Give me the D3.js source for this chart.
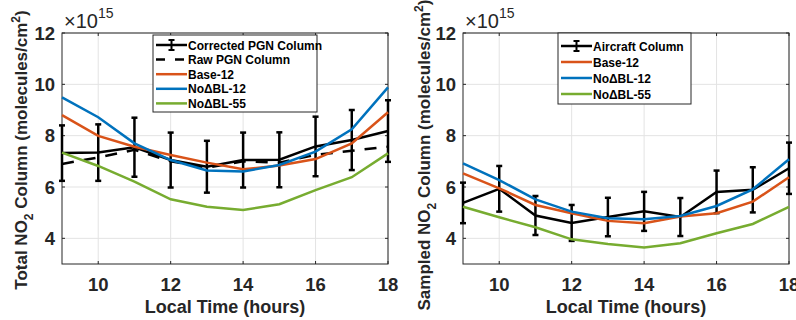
<!DOCTYPE html>
<html>
<head>
<meta charset="utf-8">
<script src="https://cdn.jsdelivr.net/npm/d3@7"></script>
<style>
  body { margin: 0; background: #fff; }
  svg { font-family: "Liberation Sans", Arial, sans-serif; font-weight: bold; }
</style>
</head>
<body>
<div id="chart"></div>
<script>
"use strict";

// local time (hours)
const hours = [9, 10, 11, 12, 13, 14, 15, 16, 17, 18];

// left panel: total NO2 column (x1e15)
const pgnCorrected = [7.32, 7.34, 7.55, 7.05, 6.79, 7.05, 7.06, 7.58, 7.83, 8.18];
const pgnErr       = [1.08, 1.10, 1.15, 1.07, 1.01, 1.07, 1.07, 1.16, 1.17, 1.20];
const pgnRaw       = [6.90, 7.15, 7.45, 7.00, 6.75, 7.00, 6.95, 7.25, 7.41, 7.57];
const totBase12    = [8.80, 7.99, 7.57, 7.25, 6.95, 6.69, 6.84, 7.09, 7.70, 8.91];
const totNoBL12    = [9.49, 8.72, 7.70, 7.05, 6.64, 6.60, 6.86, 7.38, 8.25, 9.88];
const totNoBL55    = [7.34, 6.82, 6.21, 5.52, 5.23, 5.10, 5.33, 5.88, 6.38, 7.31];

// right panel: sampled NO2 column (x1e15)
const aircraft     = [5.38, 5.93, 4.89, 4.60, 4.83, 5.05, 4.83, 5.81, 5.89, 6.73];
const aircraftErr  = [0.79, 0.89, 0.76, 0.70, 0.75, 0.76, 0.74, 0.83, 0.88, 1.00];
const smpBase12    = [6.53, 5.95, 5.30, 4.98, 4.68, 4.59, 4.85, 4.98, 5.43, 6.38];
const smpNoBL12    = [6.92, 6.27, 5.52, 5.04, 4.78, 4.74, 4.87, 5.26, 5.91, 7.08];
const smpNoBL55    = [5.23, 4.82, 4.43, 3.96, 3.78, 3.64, 3.81, 4.20, 4.56, 5.23];

const xTicks = [10, 12, 14, 16, 18];
const yTicks = [4, 6, 8, 10, 12];

const col = { orange: "#D95319", blue: "#0072BD", green: "#77AC30", black: "#000" };
const axisCol = "#262626";

const W = 796, H = 320;
const svg = d3.select("#chart").append("svg").attr("width", W).attr("height", H);

function panel(opt) {
  const x = d3.scaleLinear().domain([9, 18]).range([opt.left, opt.left + 326]);
  const y = d3.scaleLinear().domain([3, 12]).range([264, 33]);
  const g = svg.append("g");

  // grid
  g.append("g").selectAll("line").data(xTicks).join("line")
    .attr("x1", d => x(d)).attr("x2", d => x(d)).attr("y1", y(3)).attr("y2", y(12))
    .attr("stroke", "#e3e3e3").attr("stroke-width", 1);
  g.append("g").selectAll("line").data(yTicks).join("line")
    .attr("x1", x(9)).attr("x2", x(18)).attr("y1", d => y(d)).attr("y2", d => y(d))
    .attr("stroke", "#e3e3e3").attr("stroke-width", 1);

  // axes box
  g.append("rect").attr("x", x(9)).attr("y", y(12))
    .attr("width", x(18) - x(9)).attr("height", y(3) - y(12))
    .attr("fill", "none").attr("stroke", axisCol).attr("stroke-width", 1);

  // ticks
  g.append("g").selectAll("line").data(yTicks).join("line")
    .attr("x1", x(9)).attr("x2", x(9) + 3).attr("y1", d => y(d)).attr("y2", d => y(d))
    .attr("stroke", axisCol);
  g.append("g").selectAll("line").data(yTicks).join("line")
    .attr("x1", x(18)).attr("x2", x(18) - 3).attr("y1", d => y(d)).attr("y2", d => y(d))
    .attr("stroke", axisCol);
  g.append("g").selectAll("line").data(xTicks).join("line")
    .attr("x1", d => x(d)).attr("x2", d => x(d)).attr("y1", y(3)).attr("y2", y(3) - 3)
    .attr("stroke", axisCol);
  g.append("g").selectAll("line").data(xTicks).join("line")
    .attr("x1", d => x(d)).attr("x2", d => x(d)).attr("y1", y(12)).attr("y2", y(12) + 3)
    .attr("stroke", axisCol);

  // tick labels
  g.append("g").selectAll("text").data(yTicks).join("text")
    .attr("x", x(9) - 7).attr("y", d => y(d) + 6.5)
    .attr("text-anchor", "end").attr("font-size", 18.5).attr("fill", axisCol)
    .text(d => d);
  g.append("g").selectAll("text").data(xTicks).join("text")
    .attr("x", d => x(d)).attr("y", 291)
    .attr("text-anchor", "middle").attr("font-size", 18.5).attr("fill", axisCol)
    .text(d => d);

  // exponent
  const ex = g.append("text").attr("x", x(9) + 2).attr("y", 28)
    .attr("font-size", 20).attr("font-weight", "normal").attr("fill", axisCol);
  ex.append("tspan").text("×10");
  ex.append("tspan").attr("dy", -10).attr("font-size", 14).text("15");

  // axis labels
  g.append("text").attr("x", x(13.5)).attr("y", 313)
    .attr("text-anchor", "middle").attr("font-size", 18).attr("fill", axisCol)
    .text("Local Time (hours)");
  const yl = g.append("text")
    .attr("transform", `translate(${opt.ylabX},${opt.ylabY}) rotate(-90)`)
    .attr("text-anchor", "middle").attr("font-size", 17).attr("fill", axisCol);
  yl.append("tspan").text(opt.ylabel + " NO");
  yl.append("tspan").attr("dy", 6).attr("font-size", 12).text("2");
  yl.append("tspan").attr("dy", -6).text(" Column (molecules/cm");
  yl.append("tspan").attr("dy", -7).attr("font-size", 12).text("2");
  yl.append("tspan").attr("dy", 7).text(")");

  const line = d3.line().x((d, i) => x(hours[i])).y(d => y(d));

  // series
  opt.series.forEach(s => {
    g.append("path").datum(s.values)
      .attr("d", line).attr("fill", "none")
      .attr("stroke", s.color).attr("stroke-width", 2.5)
      .attr("stroke-dasharray", s.dash || null);
    if (s.err) {
      const eb = g.append("g").attr("stroke", s.color).attr("stroke-width", 2.5);
      s.values.forEach((v, i) => {
        const cx = x(hours[i]);
        eb.append("line").attr("x1", cx).attr("x2", cx)
          .attr("y1", y(v - s.err[i])).attr("y2", y(v + s.err[i]));
        [v - s.err[i], v + s.err[i]].forEach(e => {
          eb.append("line").attr("x1", cx - 3).attr("x2", cx + 3)
            .attr("y1", y(e)).attr("y2", y(e));
        });
      });
    }
  });

  // legend
  const L = opt.legend;
  g.append("rect").attr("x", L.x).attr("y", L.y).attr("width", L.w).attr("height", L.h)
    .attr("fill", "#fff").attr("stroke", "#262626").attr("stroke-width", 1);
  opt.series.forEach((s, i) => {
    const ry = L.y + L.first + i * L.step;
    g.append("line").attr("x1", L.x + 3).attr("x2", L.x + 34)
      .attr("y1", ry).attr("y2", ry)
      .attr("stroke", s.color).attr("stroke-width", 2.5)
      .attr("stroke-dasharray", s.dash ? "9,10" : null);
    if (s.err) {
      const mx = L.x + 18.5;
      g.append("line").attr("x1", mx).attr("x2", mx).attr("y1", ry - 5).attr("y2", ry + 5)
        .attr("stroke", s.color).attr("stroke-width", 2);
      [ry - 5, ry + 5].forEach(e => g.append("line").attr("x1", mx - 3).attr("x2", mx + 3)
        .attr("y1", e).attr("y2", e).attr("stroke", s.color).attr("stroke-width", 2));
    }
    g.append("text").attr("x", L.x + 35).attr("y", ry + 4.5)
      .attr("font-size", 12).attr("fill", "#000").text(s.name);
  });
}

panel({
  left: 62, ylabX: 27, ylabY: 150, ylabel: "Total",
  legend: { x: 153, y: 35, w: 164, h: 77, first: 10, step: 14.6 },
  series: [
    { name: "Corrected PGN Column", values: pgnCorrected, err: pgnErr, color: col.black },
    { name: "Raw PGN Column", values: pgnRaw, color: col.black, dash: "12,10" },
    { name: "Base-12", values: totBase12, color: col.orange },
    { name: "NoΔBL-12", values: totNoBL12, color: col.blue },
    { name: "NoΔBL-55", values: totNoBL55, color: col.green }
  ]
});

panel({
  left: 463, ylabX: 430, ylabY: 155, ylabel: "Sampled",
  legend: { x: 558, y: 33, w: 133, h: 71, first: 13, step: 16 },
  series: [
    { name: "Aircraft Column", values: aircraft, err: aircraftErr, color: col.black },
    { name: "Base-12", values: smpBase12, color: col.orange },
    { name: "NoΔBL-12", values: smpNoBL12, color: col.blue },
    { name: "NoΔBL-55", values: smpNoBL55, color: col.green }
  ]
});
</script>
</body>
</html>
